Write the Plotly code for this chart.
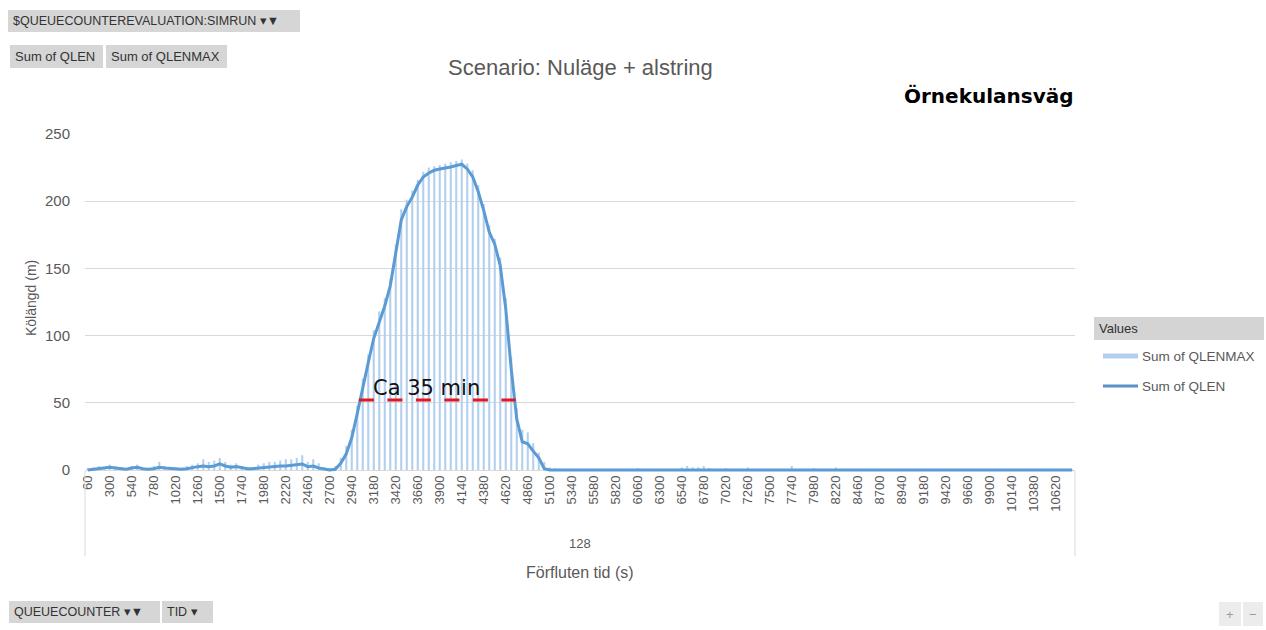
import plotly.graph_objects as go

# ---------------- data ----------------
TIME_S = [str(60 * (i + 1)) for i in range(180)]          # 60 .. 10800 s
TICK_LABELS = [TIME_S[i] for i in range(0, 180, 4)]       # 60, 300, ... 10620

QLEN = [
    0, 0.5, 1, 1.5, 2, 1.5, 1, 0.5, 1.5, 2,
    1, 0.5, 1, 2, 1.5, 1, 1, 0.5, 1, 2,
    2.5, 3, 2.5, 3, 4.5, 3, 2, 2.5, 1.5, 1,
    1, 1.5, 2, 2, 2.5, 3, 3, 3.5, 4, 4.5,
    2.5, 3, 1.5, 0.5, 0, 0.5, 5, 12, 24, 42,
    62, 80, 98, 110, 122, 137, 162, 186, 196, 203,
    212, 218, 221, 223, 224, 224.5, 225.5, 226.5, 227.5, 224,
    218, 207, 193, 177, 168, 152, 120, 75, 38, 21,
    19.5, 14, 9, 1, 0, 0, 0, 0, 0, 0,
] + [0] * 90

QLENMAX = [
    1, 2, 3, 2, 4, 3, 2, 1, 3, 4,
    2, 1, 3, 6, 3, 2, 2, 1, 3, 4,
    5, 8, 6, 7, 9, 6, 4, 5, 3, 2,
    2, 4, 5, 6, 6, 7, 8, 8, 9, 11,
    6, 8, 5, 2, 1, 3, 9, 18, 30, 48,
    68, 86, 104, 118, 128, 142, 168, 194, 201, 208,
    216, 222, 225, 226, 227, 228, 229, 230, 231, 228,
    223, 212, 198, 182, 172, 158, 128, 84, 46, 30,
    28, 20, 13, 6, 2, 1, 0, 0, 0, 0,
    0, 0, 0, 0, 0, 0, 0, 0, 0, 0,
    1, 0, 0, 0, 0, 0, 0, 0, 2, 3,
    2, 2, 3, 1, 0, 0, 1, 0, 0, 0,
    2, 0, 0, 0, 0, 0, 0, 0, 3, 0,
    0, 0, 1, 0, 0, 0, 2, 0, 0, 0,
] + [0] * 40

Y_TICKS = [0, 50, 100, 150, 200, 250]
ANNOT_LEVEL = 52            # "Ca 35 min" marker level (m)
ANNOT_FROM_IDX = 49.3       # category position where queue passes the level
ANNOT_TO_IDX = 77.8
ANNOT_TEXT = "Ca 35 min"
OUTER_CATEGORY = "128"

# ---------------- geometry helpers ----------------
W_FIG, H_FIG = 1266, 630
L, R_M, T, B_M = 85, 191, 134, 158
PW = W_FIG - L - R_M
PH = H_FIG - T - B_M
B = H_FIG - B_M


def px(x):
    return (x - L) / PW


def py(y):
    return (B - y) / PH


GREY = "#595959"
FONT = "Liberation Sans"

fig = go.Figure()
fig.add_trace(go.Bar(x=TIME_S, y=QLENMAX, name="Sum of QLENMAX",
                     marker=dict(color="#b3cfee", line=dict(width=0))))
fig.add_trace(go.Scatter(x=TIME_S, y=QLEN, name="Sum of QLEN", mode="lines",
                         line=dict(color="#5b9bd5", width=3)))

shapes = []
annotations = []


def label(x, y, text, size, color=GREY, family=FONT, xanchor="center", angle=0):
    annotations.append(dict(xref="paper", yref="paper", x=px(x), y=py(y), showarrow=False,
                            xanchor=xanchor, yanchor="middle", textangle=angle, text=text,
                            font=dict(family=family, size=size, color=color)))


# red dashed duration marker
shapes.append(dict(type="line", xref="x", yref="y",
                   x0=ANNOT_FROM_IDX, x1=ANNOT_TO_IDX, y0=ANNOT_LEVEL, y1=ANNOT_LEVEL,
                   line=dict(color="#e3171e", width=3, dash="15px,13.5px")))
annotations.append(dict(xref="x", yref="y", x=(ANNOT_FROM_IDX + ANNOT_TO_IDX) / 2 - 1.9,
                        y=ANNOT_LEVEL, xanchor="center", yanchor="bottom", yshift=-2,
                        showarrow=False, text=ANNOT_TEXT,
                        font=dict(family="DejaVu Sans", size=21, color="#111111")))

# multilevel category boundaries
for xx in (85, 1075):
    shapes.append(dict(type="line", xref="paper", yref="paper", x0=px(xx), x1=px(xx),
                       y0=py(471), y1=py(556), line=dict(color="#d9d9d9", width=1)))

# outer category + axis titles
label(580, 543, OUTER_CATEGORY, 13)
label(580, 572, "Förfluten tid (s)", 16)
label(31, 298, "Kölängd (m)", 14, angle=-90)

# titles
label(580, 67, "Scenario: Nuläge + alstring", 22)
label(1076, 96, "<b>Örnekulansväg</b>", 20, color="#000000", family="DejaVu Sans",
      xanchor="right")


# pivot field buttons
def button(x0, x1, y0, y1, text, size=13, fill="#d6d6d6", color="#333333", center=False):
    shapes.append(dict(type="rect", xref="paper", yref="paper", x0=px(x0), x1=px(x1),
                       y0=py(y1), y1=py(y0), fillcolor=fill, line=dict(width=0), layer="below"))
    if center:
        label((x0 + x1) / 2, (y0 + y1) / 2, text, size, color=color)
    else:
        label(x0 + 3, (y0 + y1) / 2, text, size, color=color, xanchor="left")


button(8, 300, 10, 32, "$QUEUECOUNTEREVALUATION:SIMRUN ▾▼", size=12.5)
button(10, 103, 45, 68, "Sum of QLEN", size=13)
button(106, 227, 45, 68, "Sum of QLENMAX", size=13)
button(9, 160, 601, 623, "QUEUECOUNTER ▾▼", size=12.5)
button(162, 213, 601, 623, "TID ▾", size=12.5)
button(1219, 1241, 602, 626, "+", size=13, fill="#ececec", color="#9a9a9a", center=True)
button(1243, 1263, 602, 626, "−", size=13, fill="#ececec", color="#9a9a9a", center=True)

# legend (Excel pivot-chart style)
button(1094, 1264, 317, 340, "Values", size=13, fill="#d4d4d4", color="#303030")
shapes.append(dict(type="line", xref="paper", yref="paper", x0=px(1103), x1=px(1138),
                   y0=py(356), y1=py(356), line=dict(color="#b3cfee", width=5)))
shapes.append(dict(type="line", xref="paper", yref="paper", x0=px(1103), x1=px(1138),
                   y0=py(386), y1=py(386), line=dict(color="#5b8fc9", width=3)))
label(1140, 356, "Sum of QLENMAX", 13.5, xanchor="left")
label(1140, 386, "Sum of QLEN", 13.5, xanchor="left")

y_low = -(B - 470) / ((470 - T) / 250.0)

fig.update_layout(
    width=W_FIG, height=H_FIG, autosize=False,
    margin=dict(l=L, r=R_M, t=T, b=B_M, pad=0),
    paper_bgcolor="white", plot_bgcolor="white",
    showlegend=False, bargap=0.62,
    shapes=shapes, annotations=annotations,
    xaxis=dict(type="category", range=[-0.5, 179.5], tickmode="array",
               tickvals=TICK_LABELS, ticktext=TICK_LABELS, tickangle=-90,
               tickfont=dict(family=FONT, size=13, color=GREY),
               showgrid=False, zeroline=False, showline=False, ticks=""),
    yaxis=dict(range=[y_low, 250], tickmode="array", tickvals=Y_TICKS,
               tickfont=dict(family=FONT, size=15, color=GREY),
               showgrid=True, gridcolor="#d9d9d9", gridwidth=1,
               zeroline=False, showline=False, ticks="", ticklabelstandoff=14),
)

fig.write_html("out.html")
